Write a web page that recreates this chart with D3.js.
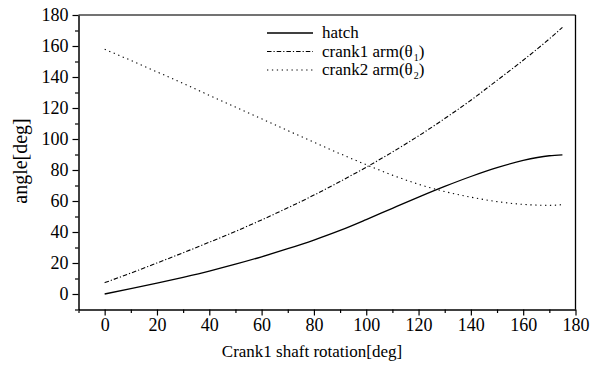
<!DOCTYPE html>
<html>
<head>
<meta charset="utf-8">
<script src="https://cdn.jsdelivr.net/npm/d3@7"></script>
<style>
  html, body { margin: 0; padding: 0; background: #fff; }
  svg { display: block; }
</style>
</head>
<body>
<svg id="chart" width="603" height="365"></svg>
<script>
// ---- data ----
const rotation = [0, 10, 20, 30, 40, 50, 60, 70, 80, 90, 100, 110, 120, 130, 140, 150, 160, 170, 175];
const hatch    = [0, 3.4, 7.0, 10.8, 14.8, 19.2, 24.0, 29.2, 34.8, 41.0, 48.0, 55.3, 62.5, 69.4, 75.8, 81.5, 86.2, 89.2, 89.8];
const crank1   = [7.3, 13.5, 20.0, 26.6, 33.4, 40.4, 47.8, 55.6, 63.8, 72.6, 81.8, 91.6, 102.0, 113.2, 125.0, 137.8, 150.8, 164.6, 172.0];
const crank2   = [157.9, 150.7, 143.3, 135.8, 128.2, 120.6, 113.0, 105.4, 97.9, 90.5, 83.4, 76.7, 70.8, 66.1, 62.5, 59.6, 57.8, 57.2, 57.6];
const seriesNames = ["hatch", "crank1 arm(θ", "crank2 arm(θ"];
const seriesSubs = ["", "1", "2"];
const xTicks = [0, 20, 40, 60, 80, 100, 120, 140, 160, 180];
const yTicks = [0, 20, 40, 60, 80, 100, 120, 140, 160, 180];
const xTitle = "Crank1 shaft rotation[deg]";
const yTitle = "angle[deg]";

const FONT = "'Liberation Serif', Tinos, 'Times New Roman', Times, 'Nimbus Roman', 'DejaVu Serif', serif";

// ---- layout ----
const svg = d3.select("#chart");
const L = 78.5, R = 575.5, T = 15, B = 309.5;
const x = d3.scaleLinear().domain([-10, 180]).range([L, R]);
const y = d3.scaleLinear().domain([-10, 180]).range([B, T]);

const dashes = [null, "4.5,2,1.2,2", "1.3,3.6"];
const series = [hatch, crank1, crank2];

// frame top/right
svg.append("line").attr("x1", L).attr("x2", R).attr("y1", T).attr("y2", T)
  .attr("stroke", "#444").attr("stroke-width", 1.4);
svg.append("line").attr("x1", R).attr("x2", R).attr("y1", T).attr("y2", B)
  .attr("stroke", "#000").attr("stroke-width", 1.3);

// minor ticks
const xMinor = d3.range(-10, 181, 10).filter(v => !xTicks.includes(v));
const yMinor = d3.range(-10, 181, 10).filter(v => !yTicks.includes(v));

const xAxisMinor = d3.axisBottom(x).tickValues(xMinor).tickSize(3.5).tickFormat("");
const yAxisMinor = d3.axisLeft(y).tickValues(yMinor).tickSize(3.5).tickFormat("");
const xAxis = d3.axisBottom(x).tickValues(xTicks).tickSize(6).tickPadding(3).tickSizeOuter(0);
const yAxis = d3.axisLeft(y).tickValues(yTicks).tickSize(6).tickPadding(4).tickSizeOuter(0);

function style(g) {
  g.attr("font-family", null).attr("font-size", null);
  g.select(".domain").attr("stroke", "#000").attr("stroke-width", 1.5);
  g.selectAll(".tick line").attr("stroke", "#000").attr("stroke-width", 1.2);
  g.selectAll(".tick text").style("font-family", FONT).style("font-size", "18px").attr("fill", "#000");
}
svg.append("g").attr("transform", `translate(0,${B})`).call(xAxisMinor).call(style).select(".domain").remove();
svg.append("g").attr("transform", `translate(${L},0)`).call(yAxisMinor).call(style).select(".domain").remove();
svg.append("g").attr("transform", `translate(0,${B})`).call(xAxis).call(style);
svg.append("g").attr("transform", `translate(${L},0)`).call(yAxis).call(style);

// lines
const line = d3.line().curve(d3.curveMonotoneX);
series.forEach((s, i) => {
  svg.append("path")
    .attr("d", line(rotation.map((r, j) => [x(r), y(s[j])])))
    .attr("fill", "none").attr("stroke", "#000")
    .attr("stroke-width", i === 0 ? 1.3 : 1.1)
    .attr("stroke-dasharray", dashes[i]);
});

// legend
const legY = [33, 51.5, 70];
seriesNames.forEach((n, i) => {
  svg.append("line").attr("x1", 267).attr("x2", 313).attr("y1", legY[i]).attr("y2", legY[i])
    .attr("stroke", "#000").attr("stroke-width", i === 0 ? 1.3 : 1.1)
    .attr("stroke-dasharray", dashes[i]);
  const t = svg.append("text").attr("x", 322).attr("y", legY[i] + 5)
    .style("font-family", FONT).style("font-size", "17px");
  t.append("tspan").text(n);
  if (seriesSubs[i]) {
    t.append("tspan").attr("dy", 4).style("font-size", "10px").attr("dx", 1).text(seriesSubs[i]);
    t.append("tspan").attr("dy", -4).text(")");
  }
});

// axis titles
svg.append("text").attr("x", (L + R) / 2 - 15).attr("y", 357).attr("text-anchor", "middle")
  .style("font-family", FONT).style("font-size", "17px").text(xTitle);
svg.append("text").attr("transform", "translate(27,161) rotate(-90)").attr("text-anchor", "middle")
  .style("font-family", FONT).style("font-size", "20px").text(yTitle);
</script>
</body>
</html>
